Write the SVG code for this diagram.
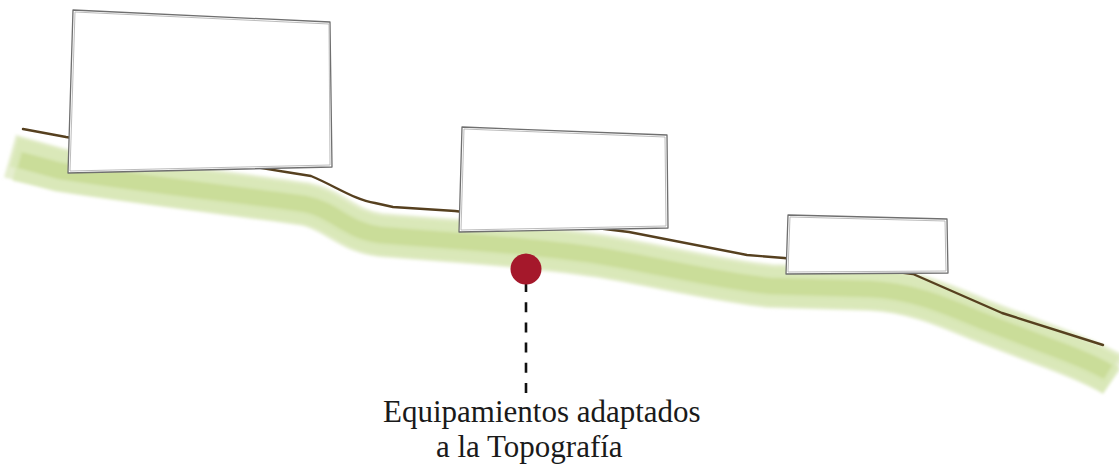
<svg xmlns="http://www.w3.org/2000/svg" width="1119" height="466" viewBox="0 0 1119 466">
  <defs>
    <filter id="soft" x="-5%" y="-20%" width="110%" height="140%">
      <feGaussianBlur stdDeviation="1.6"/>
    </filter>
    <style>
      .band{fill:none;stroke-linecap:butt;stroke-linejoin:round}
      .terrain{fill:none;stroke:#56401f;stroke-width:2.4;stroke-linejoin:round;stroke-linecap:round}
      .box{fill:#ffffff;stroke:#6f6f6f;stroke-width:1.3;stroke-linejoin:round}
      .box2{fill:none;stroke:#b4b4b4;stroke-width:0.9}
      .label{font-family:"Liberation Serif","Times New Roman",serif;font-size:31px;fill:#1a1a1a}
    </style>
  </defs>

  <g id="ground">
    <g filter="url(#soft)">
      <path class="band" stroke="#e0ebc6" stroke-width="44" opacity="0.85" d="M10,156 L60,170 C150,184 250,196 305,204 C335,210 345,230 380,235 L470,242 C520,246 560,250 600,256 C660,266 720,281 770,286 L870,289 C910,291 940,303 980,320 L1040,343 C1070,354 1095,364 1114,375"/>
      <path class="band" stroke="#d6e5b0" stroke-width="30" opacity="0.7" d="M14,152 L60,165 C150,180 250,192 305,200 C335,206 345,226 380,231 L470,238 C520,242 560,246 600,252 C660,262 720,277 770,282 L870,285 C910,287 940,299 980,316 L1040,339 C1070,350 1095,360 1112,370"/>
      <path class="band" stroke="#d6e5b0" stroke-width="30" opacity="0.7" d="M16,166 L60,176 C150,190 250,201 305,209 C335,215 345,235 380,240 L470,247 C520,251 560,255 600,261 C660,271 720,286 770,291 L870,294 C910,296 940,308 980,325 L1040,348 C1070,359 1095,369 1112,381"/>
      <path class="band" stroke="#c6da90" stroke-width="16" opacity="0.75" d="M20,160 L60,171 C150,185 250,196 305,204 C335,210 345,230 380,235 L470,242 C520,246 560,250 600,256 C660,266 720,281 770,286 L870,289 C910,291 940,303 980,320 L1040,343 C1070,354 1095,364 1108,372"/>
    </g>
    <path class="terrain" d="M23,129 L66,137 L286,172 L311,176 C335,186 355,200 375,203 L393,207 L455,211 L629,232 L747,255 L784,258 L913,274 L1002,313 L1103,345"/>
  </g>

  <g id="building-1">
    <polygon class="box" points="73,10 330,22 332,167 68,173"/>
    <polyline class="box2" points="75,12 329,24 330,165 70,171 75,12"/>
  </g>

  <g id="building-2">
    <polygon class="box" points="462,127 667,135 668,228 459,232"/>
    <polyline class="box2" points="464,129 665,137 666,226 461,230 464,129"/>
  </g>

  <g id="building-3">
    <polygon class="box" points="788,215 947,219 948,273 786,274"/>
    <polyline class="box2" points="790,217 945,221 946,271 788,272 790,217"/>
  </g>

  <g id="connectors">
    <line x1="526" y1="282" x2="526" y2="393" stroke="#111" stroke-width="2.6" stroke-dasharray="10 10.2"/>
  </g>

  <g id="marker">
    <circle cx="526" cy="269" r="15.5" fill="#a5182b"/>
  </g>

  <g id="label">
    <text class="label" x="383" y="422">Equipamientos adaptados</text>
    <text class="label" x="436" y="457">a la Topografía</text>
  </g>
</svg>
